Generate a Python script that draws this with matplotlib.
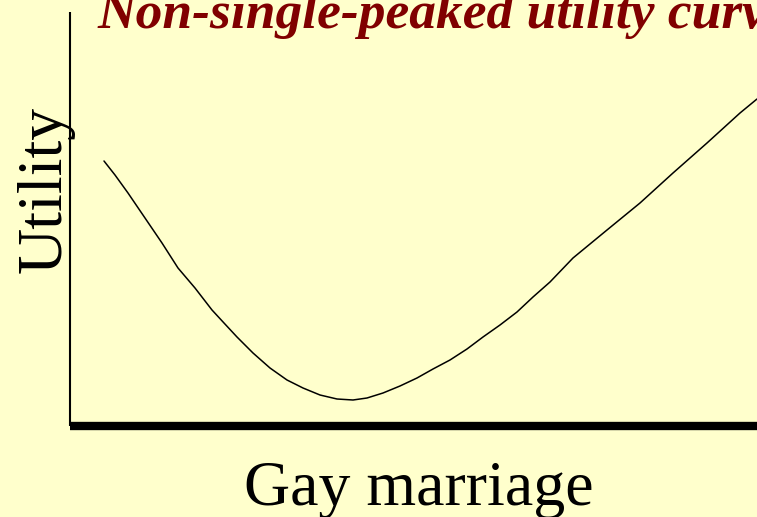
import matplotlib
matplotlib.use("Agg")
import matplotlib.pyplot as plt

# position along the issue (left = against, right = for)
position = [34, 45, 58, 75, 92, 108, 125, 142, 154, 167, 183, 200, 217,
            233, 250, 267, 283, 297, 313, 330, 347, 363, 380, 397, 413,
            430, 447, 463, 480, 503, 537, 570, 603, 637, 670, 687]
# utility at each position
utility = [266, 252, 234, 209, 184, 159, 139, 117, 104, 90, 74, 59, 47,
           39, 32, 28, 27, 29, 34, 41, 49, 58, 67, 78, 90,
           102, 115, 130, 145, 169, 197, 224, 254, 284, 314, 328]

title = "Non-single-peaked utility curve"
x_label = "Gay marriage"
y_label = "Utility"

bg = "#ffffcc"
W, H = 757, 517

fig = plt.figure(figsize=(W / 100, H / 100), dpi=100, facecolor=bg)
ax = fig.add_axes([70 / W, (H - 426) / H, (W - 70) / W, (426 - 12) / H])
ax.set_facecolor(bg)

ax.plot(position, utility, color="black", linewidth=1.1,
        solid_joinstyle="round", solid_capstyle="round")

ax.set_xlim(0, 687)
ax.set_ylim(1, 415)
ax.set_xticks([])
ax.set_yticks([])
for side in ("top", "right"):
    ax.spines[side].set_visible(False)
ax.spines["left"].set_linewidth(1.5)
ax.spines["bottom"].set_linewidth(6)
ax.spines["bottom"].set_capstyle("butt")
ax.spines["left"].set_capstyle("butt")

serif = "Liberation Serif"
fig.text(97 / W, (H - 28) / H, title, family=serif, weight="bold",
         style="italic", fontsize=38.5, color="#800000", va="baseline", ha="left")
fig.text(419 / W, (H - 505) / H, x_label, family=serif, fontsize=46,
         va="baseline", ha="center")
fig.text(46 / W, (H - 189) / H, y_label, family=serif, fontsize=46,
         rotation=90, va="center", ha="center")

fig.savefig("out.png", dpi=100, facecolor=bg)
